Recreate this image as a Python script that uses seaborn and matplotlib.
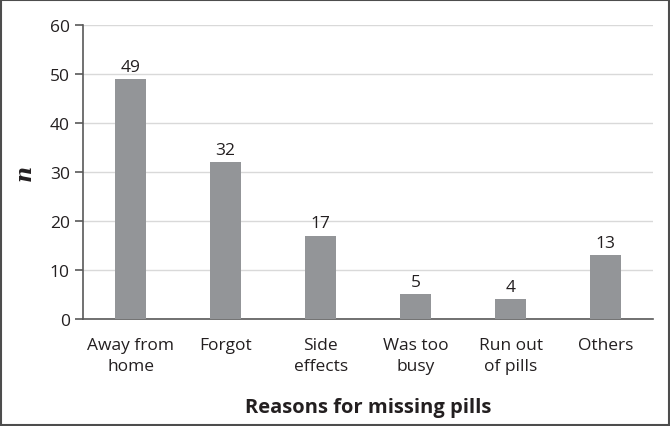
import matplotlib
matplotlib.use("Agg")
import matplotlib.pyplot as plt
import matplotlib.patches as mpatches
import seaborn as sns
import numpy as np
import pandas as pd

reasons = ["Away from\nhome", "Forgot", "Side\neffects", "Was too\nbusy", "Run out\nof pills", "Others"]
counts = [49, 32, 17, 5, 4, 13]

sns.set_style("white")
plt.rcParams['font.family'] = ['Open Sans', 'DejaVu Sans']

df = pd.DataFrame({'reason': reasons, 'n': counts})

fig = plt.figure(figsize=(6.7, 4.27), dpi=100)
ax = fig.add_axes([0.124, 0.2506, 0.851, 0.6884])

sns.barplot(data=df, x='reason', y='n', color='#939598', width=0.33,
            saturation=1, ax=ax, zorder=3, edgecolor='none')

for i, v in enumerate(counts):
    ax.text(i, v + 0.9, str(v), ha='center', va='bottom', fontsize=12.5, color='#231f20')

ax.set_ylim(0, 60)
ax.set_xlim(-0.5, 5.5)
ax.set_yticks(np.arange(0, 61, 10))
ax.yaxis.grid(True, color='#d9d9d9', linewidth=1, zorder=0)
ax.set_axisbelow(True)

for s in ['top', 'right']:
    ax.spines[s].set_visible(False)
for s in ['left', 'bottom']:
    ax.spines[s].set_color('#595959')
    ax.spines[s].set_linewidth(1.2)

ax.set_xticks(np.arange(-0.5, 6, 1), minor=True)
ax.tick_params(axis='x', which='major', length=0, pad=13, labelsize=12.5, colors='#231f20')
ax.tick_params(axis='x', which='minor', length=6, width=1.2, color='#595959', direction='out')
ax.tick_params(axis='y', length=6, width=1.2, color='#595959', labelsize=12.5, labelcolor='#231f20', left=True)
for lbl in ax.get_xticklabels():
    lbl.set_linespacing(1.45)

ax.set_xlabel('Reasons for missing pills', fontsize=14.5, fontweight='bold', color='#231f20', labelpad=16)
ax.set_ylabel('n', fontsize=16, fontweight='bold', fontstyle='italic', family='DejaVu Serif',
              color='#231f20', labelpad=10)

fig.add_artist(mpatches.Rectangle((0.002, 0.002), 0.996, 0.996, transform=fig.transFigure,
                                  fill=False, edgecolor='#4d4d4d', linewidth=1.5))

fig.savefig('out.png', dpi=100)
